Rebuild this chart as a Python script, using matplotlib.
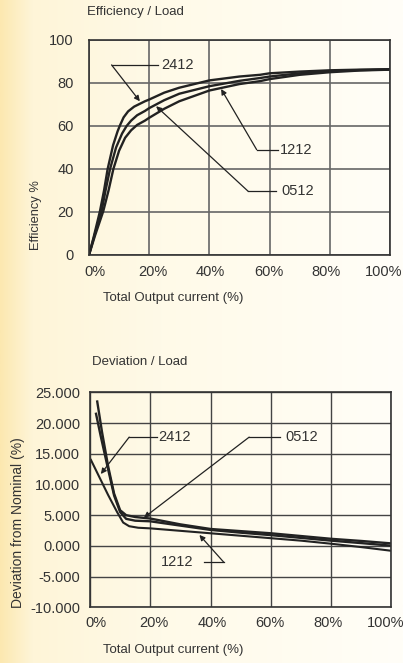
import numpy as np
import matplotlib
matplotlib.use("Agg")
import matplotlib.pyplot as plt

plt.rcParams['font.family'] = ['Liberation Sans', 'DejaVu Sans']

# efficiency / load
eff_x_2412 = [0, 1.5, 3.65, 5, 6.2, 8, 9.5, 10.3, 11.5, 13, 15, 18.6, 20, 25, 30, 40, 50, 56.8, 60, 70, 80, 90, 100]
eff_2412 = [0, 8, 20.4, 30, 40, 51, 57.5, 60.3, 64, 66.8, 69, 71.5, 72.3, 75.5, 77.8, 81.2, 83.0, 83.8, 84.5, 85.3, 85.9, 86.2, 86.4]
eff_x_0512 = [0, 2, 4.2, 5.5, 7, 9, 11, 12.5, 14, 16, 18.6, 20, 25, 30, 40, 50, 56.8, 60, 70, 80, 90, 100]
eff_0512 = [0, 10, 20.4, 30, 40, 50, 56.5, 60, 62.5, 65, 67, 68.3, 72, 75, 78.5, 81, 82.3, 83, 84.5, 85.5, 86, 86.3]
eff_x_1212 = [0, 2, 4.75, 6.5, 8.1, 10, 12, 14, 16, 18.6, 20, 25, 30, 40, 50, 56.8, 60, 70, 80, 90, 100]
eff_1212 = [0, 9, 20.4, 30, 40, 48.5, 54.5, 58, 60.5, 62.5, 63.8, 68, 71.5, 76.5, 79.5, 80.85, 81.8, 83.8, 85, 85.8, 86.2]

# deviation / load
dev_x_0512 = [2.4, 4, 6, 8, 10, 12, 15, 20, 30, 40, 50, 60, 70, 80, 90, 100]
dev_0512 = [23.5, 18.5, 13.0, 8.5, 5.8, 5.0, 4.7, 4.45, 3.5, 2.75, 2.4, 2.05, 1.6, 1.15, 0.8, 0.4]
dev_x_1212 = [2, 3.5, 6, 8, 10, 12, 15, 20, 30, 40, 50, 60, 70, 80, 90, 100]
dev_1212 = [21.5, 18.0, 12.5, 8.2, 5.5, 4.4, 4.1, 4.0, 3.3, 2.6, 2.15, 1.75, 1.3, 0.85, 0.45, 0.03]
dev_x_2412 = [0.3, 3, 6, 9, 11, 13, 16, 20, 30, 40, 50, 60, 70, 80, 90, 100]
dev_2412 = [14, 11.3, 8.3, 5.5, 3.8, 3.2, 2.95, 2.85, 2.45, 2.05, 1.65, 1.25, 0.85, 0.35, -0.2, -0.8]

x_ticks = [0, 20, 40, 60, 80, 100]
x_ticklabels = ['0%', '20%', '40%', '60%', '80%', '100%']
eff_ticks = [0, 20, 40, 60, 80, 100]
dev_ticks = [-10, -5, 0, 5, 10, 15, 20, 25]

fig = plt.figure(figsize=(4.03, 6.63), dpi=100)

# background gradient
bg = fig.add_axes([0, 0, 1, 1], zorder=-10)
t = np.linspace(0, 1, 400)
stops = [0, 0.08, 0.4, 1.0]
r = np.interp(t, stops, [252, 254, 255, 255])
g = np.interp(t, stops, [232, 245, 250, 254])
b = np.interp(t, stops, [176, 216, 232, 248])
grad = np.stack([r, g, b], axis=-1)[None, :, :] / 255.0
bg.imshow(grad, aspect='auto', extent=[0, 1, 0, 1])
bg.axis('off')

ax1 = fig.add_axes([0.2208, 0.6154, 0.7469, 0.3243])
ax2 = fig.add_axes([0.2233, 0.0840, 0.7480, 0.3243])

# tick labels sit a bit inward of the gridlines in the original
lab_pos = [2 + 19.2 * i for i in range(6)]

for ax in (ax1, ax2):
    ax.set_facecolor('none')
    ax.set_xlim(0, 100)
    ax.set_xticks(x_ticks)
    ax.set_xticklabels([])
    ax.set_xticks(lab_pos, x_ticklabels, minor=True)
    ax.tick_params(which='both', length=0, labelsize=10.5, colors='#333333')
    for s in ax.spines.values():
        s.set_color('#333333')
        s.set_linewidth(1.2)

ax1.set_ylim(0, 100)
ax1.set_yticks(eff_ticks)
ax1.tick_params(axis='y', pad=11)
ax1.tick_params(axis='x', which='both', pad=7)
ax1.grid(True, which='major', color='#666666', lw=1.2)
ax1.set_axisbelow(True)

ax1.plot(eff_x_2412, eff_2412, color='#222222', lw=1.7)
ax1.plot(eff_x_0512, eff_0512, color='#222222', lw=1.7)
ax1.plot(eff_x_1212, eff_1212, color='#222222', lw=1.7)

arr = dict(arrowstyle='-|>', color='#222222', lw=0.9, mutation_scale=8, shrinkA=0, shrinkB=0)
ln = dict(color='#222222', lw=0.9)

ax1.plot([7.5, 22.9], [88.4, 88.4], **ln)
ax1.annotate('', xy=(16.9, 71.5), xytext=(7.5, 88.4), arrowprops=arr)
ax1.text(24, 88.4, '2412', fontsize=10.5, color='#333333', va='center')
ax1.plot([55.7, 62.8], [49, 49], **ln)
ax1.annotate('', xy=(43.9, 77.2), xytext=(55.7, 49), arrowprops=arr)
ax1.text(63.5, 49, '1212', fontsize=10.5, color='#333333', va='center')
ax1.plot([52.9, 62.1], [29.6, 29.6], **ln)
ax1.annotate('', xy=(22.3, 69.2), xytext=(52.9, 29.6), arrowprops=arr)
ax1.text(64, 29.6, '0512', fontsize=10.5, color='#333333', va='center')

ax2.set_ylim(-10, 25)
ax2.set_yticks(dev_ticks)
ax2.set_yticklabels(['%.3f' % v for v in dev_ticks])
ax2.tick_params(axis='y', pad=7)
ax2.tick_params(axis='x', which='both', pad=6)
ax2.grid(True, which='major', color='#444444', lw=1.0)
ax2.set_axisbelow(True)

ax2.plot(dev_x_0512, dev_0512, color='#222222', lw=1.7)
ax2.plot(dev_x_1212, dev_1212, color='#222222', lw=1.7)
ax2.plot(dev_x_2412, dev_2412, color='#222222', lw=1.5)

ax2.plot([13.0, 22.1], [17.7, 17.7], **ln)
ax2.annotate('', xy=(3.6, 11.7), xytext=(13.0, 17.7), arrowprops=arr)
ax2.text(22.7, 17.7, '2412', fontsize=10.5, color='#333333', va='center')
ax2.plot([52.8, 63.0], [17.7, 17.7], **ln)
ax2.annotate('', xy=(17.9, 4.6), xytext=(52.8, 17.7), arrowprops=arr)
ax2.text(64.7, 17.7, '0512', fontsize=10.5, color='#333333', va='center')
ax2.plot([37.8, 44.4], [-2.67, -2.67], **ln)
ax2.annotate('', xy=(36.3, 1.78), xytext=(44.4, -2.67), arrowprops=arr)
ax2.text(34.3, -2.67, '1212', fontsize=10.5, color='#333333', va='center', ha='right')

# titles and axis labels
fig.text(87 / 403, 1 - 12 / 663, 'Efficiency / Load', fontsize=9.5, color='#333333', va='center')
fig.text(92 / 403, 1 - 362 / 663, 'Deviation / Load', fontsize=9.5, color='#333333', va='center')
fig.text(173 / 403, 1 - 298 / 663, 'Total Output current (%)', fontsize=9.5, color='#333333', ha='center', va='center')
fig.text(173 / 403, 1 - 650 / 663, 'Total Output current (%)', fontsize=9.5, color='#333333', ha='center', va='center')
fig.text(36 / 403, 1 - 215 / 663, 'Efficiency %', fontsize=9.3, color='#333333', ha='center', va='center', rotation=90)
fig.text(18 / 403, 1 - 523 / 663, 'Deviation from Nominal (%)', fontsize=10, color='#333333', ha='center', va='center', rotation=90)

fig.savefig('out.png', dpi=100)
